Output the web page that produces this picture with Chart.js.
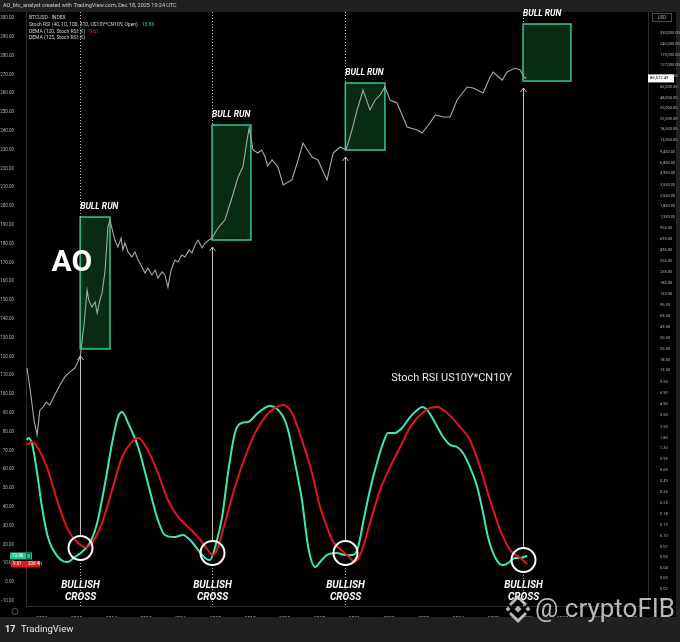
<!DOCTYPE html>
<html>
<head>
<meta charset="utf-8">
<title>BTCUSD vs Stoch RSI US10Y*CN10Y</title>
<script src="https://cdn.jsdelivr.net/npm/chart.js@4.4.1/dist/chart.umd.min.js"></script>
<style>
  html, body { margin: 0; padding: 0; background: #202020; }
  canvas { display: block; }
</style>
</head>
<body>
<canvas id="myChart" width="680" height="642"></canvas>
<script>
// BTCUSD index
const btcYears = [2011.57, 2011.68, 2011.77, 2011.86, 2011.94, 2012.03, 2012.12, 2012.23, 2012.37, 2012.52,
  2012.66, 2012.81, 2012.95, 2013.10, 2013.21, 2013.30, 2013.35, 2013.44, 2013.53, 2013.59,
  2013.67, 2013.73, 2013.82, 2013.90, 2013.96, 2014.05, 2014.10, 2014.19, 2014.28, 2014.33,
  2014.39, 2014.48, 2014.59, 2014.68, 2014.77, 2014.85, 2014.97, 2015.05, 2015.17, 2015.26,
  2015.34, 2015.46, 2015.54, 2015.63, 2015.72, 2015.83, 2015.92, 2016.03, 2016.12, 2016.24,
  2016.32, 2016.41, 2016.50, 2016.61, 2016.70, 2016.81, 2016.90, 2017.07, 2017.27, 2017.48,
  2017.65, 2017.79, 2017.91, 2017.97, 2018.08, 2018.22, 2018.33, 2018.43, 2018.50, 2018.63,
  2018.80, 2018.95, 2019.20, 2019.38, 2019.52, 2019.78, 2019.95, 2020.21, 2020.39, 2020.59,
  2020.76, 2020.93, 2021.08, 2021.25, 2021.45, 2021.60, 2021.74, 2021.88, 2022.03, 2022.23,
  2022.40, 2022.52, 2022.81, 2022.95, 2023.18, 2023.33, 2023.56, 2023.76, 2023.96, 2024.25,
  2024.42, 2024.71, 2024.91, 2025.00, 2025.26, 2025.40, 2025.63, 2025.78, 2025.89, 2025.96];
const btcPrice = [14.5, 6.5, 3.05, 1.95, 4.1, 4.5, 5.2, 4.8, 6.5, 8.7,
  11.1, 12.9, 14.5, 20.1, 52.6, 150, 111, 90, 105, 75,
  111, 137, 274, 994, 1225, 830, 673, 546, 715, 499,
  615, 470, 405, 470, 369, 318, 250, 290, 236, 274,
  215, 258, 236, 164, 274, 369, 348, 430, 405, 499,
  456, 580, 673, 530, 615, 673, 715, 964, 1225, 2445,
  4450, 6000, 13500, 19330, 10000, 9140, 10000, 8110, 6190, 7410,
  6000, 3500, 4070, 7410, 12340, 8110, 7410, 4070, 9140, 10940,
  10000, 18200, 33200, 60400, 33200, 44800, 52000, 66100, 44800, 40900,
  26900, 19920, 18200, 16650, 22450, 28600, 26900, 26900, 44800, 66100,
  64200, 55200, 89200, 103600, 81500, 103600, 116900, 110000, 89200, 85572.49];

// Stoch RSI (US10Y*CN10Y) K line
const kYears = [2011.57, 2011.60, 2011.71, 2011.86, 2012.00, 2012.17, 2012.46, 2012.72, 2012.95, 2013.15,
  2013.38, 2013.59, 2013.82, 2014.02, 2014.19, 2014.31, 2014.48, 2014.77, 2015.05, 2015.34,
  2015.54, 2015.83, 2016.06, 2016.32, 2016.50, 2016.70, 2016.84, 2016.99, 2017.19, 2017.36,
  2017.56, 2017.76, 2017.94, 2018.22, 2018.57, 2018.92, 2019.09, 2019.29, 2019.49, 2019.67,
  2019.87, 2020.01, 2020.21, 2020.50, 2020.73, 2020.96, 2021.11, 2021.25, 2021.45, 2021.65,
  2021.83, 2021.97, 2022.17, 2022.37, 2022.61, 2022.81, 2022.95, 2023.10, 2023.33, 2023.56,
  2023.76, 2023.96, 2024.13, 2024.33, 2024.54, 2024.71, 2024.85, 2025.05, 2025.26, 2025.43,
  2025.63, 2025.78, 2025.98];
const stochK = [75.5, 76.6, 73.9, 58.0, 39.9, 23.9, 13.3, 10.6, 13.3, 16.0,
  20.7, 31.4, 52.7, 73.9, 87.8, 90.4, 84.6, 71.8, 52.7, 33.0,
  25.0, 23.9, 25.0, 21.3, 17.0, 12.8, 11.7, 18.6, 34.6, 58.0,
  79.3, 84.6, 85.1, 89.9, 93.6, 88.8, 80.9, 63.3, 43.6, 18.6,
  8.0, 10.6, 14.4, 15.4, 14.4, 14.4, 18.6, 31.4, 48.9, 63.3,
  74.0, 79.3, 79.3, 81.9, 87.8, 91.5, 93.1, 91.5, 84.6, 77.1,
  72.9, 71.8, 68.6, 61.2, 50.5, 36.7, 23.9, 13.3, 9.0, 10.1,
  12.8, 12.8, 13.86];

// DEMA (120) of the K line
const dYears = [2011.57, 2011.71, 2011.88, 2012.17, 2012.46, 2012.75, 2013.04, 2013.24, 2013.44, 2013.73,
  2014.02, 2014.31, 2014.59, 2014.77, 2015.05, 2015.34, 2015.63, 2015.92, 2016.21, 2016.50,
  2016.78, 2016.93, 2017.07, 2017.27, 2017.56, 2017.85, 2018.14, 2018.43, 2018.71, 2018.95,
  2019.20, 2019.49, 2019.78, 2020.01, 2020.21, 2020.36, 2020.50, 2020.79, 2021.02, 2021.22,
  2021.45, 2021.74, 2022.03, 2022.32, 2022.61, 2022.89, 2023.18, 2023.38, 2023.67, 2024.05,
  2024.33, 2024.62, 2024.91, 2025.20, 2025.49, 2025.78, 2025.98];
const demaD = [73.0, 74.5, 71.3, 59.6, 42.0, 27.7, 20.7, 18.6, 20.7, 31.4,
  48.9, 66.5, 74.5, 76.6, 70.2, 58.0, 43.6, 34.6, 29.3, 23.9,
  17.0, 14.4, 18.6, 31.4, 50.5, 66.5, 79.3, 87.8, 92.6, 94.1,
  89.9, 75.5, 58.0, 40.0, 29.3, 22.3, 19.0, 14.4, 10.6, 17.0,
  31.4, 48.9, 61.2, 71.8, 82.4, 88.8, 92.6, 93.1, 89.9, 82.4,
  75.5, 61.2, 43.6, 27.7, 17.0, 12.8, 9.61];

// bullish crosses and the bull run boxes drawn after them
const crossYears = [2013.10, 2016.90, 2020.74, 2025.86];
const crossLevels = [18.1, 15.4, 15.4, 11.7];
const runEnds = [2013.96, 2018.02, 2021.88, 2027.24];
const runLows = [25.7, 673, 10000, 79100];
const runHighs = [1340, 21170, 74500, 437000];

// axis ticks
const yearTicks = [2012, 2013, 2014, 2015, 2016, 2017, 2018, 2019, 2020, 2021,
  2022, 2023, 2024, 2025, 2026, 2027, 2028, 2029];
const leftTicks = [-10, 0, 10, 20, 30, 40, 50, 60, 70, 80, 90, 100, 110, 120, 130, 140, 150, 160,
  170, 180, 190, 200, 210, 220, 230, 240, 250, 260, 270, 280, 290, 300];
const priceTicks = [330000, 240000, 175000, 127000, 92500, 66000, 48000, 35000, 25500, 18500,
  13500, 9450, 6850, 4950, 3550, 2550, 1850, 1330, 955, 695,
  495, 355, 255, 185, 133, 95.5, 69.5, 49.5, 35.5, 25.5,
  18.5, 13.5, 9.5, 6.9, 4.9, 3.5, 2.5, 1.8, 1.3, 0.95,
  0.69, 0.49, 0.35, 0.25, 0.18, 0.13, 0.0945, 0.0687, 0.05, 0.0364,
  0.0265, 0.0192, 0.014];
const priceLabels = ['330,000.00', '240,000.00', '175,000.00', '127,000.00', '92,500.00', '66,000.00',
  '48,000.00', '35,000.00', '25,500.00', '18,500.00', '13,500.00', '9,450.00', '6,850.00', '4,950.00',
  '3,550.00', '2,550.00', '1,850.00', '1,330.00', '955.00', '695.00', '495.00', '355.00', '255.00',
  '185.00', '133.00', '95.50', '69.50', '49.50', '35.50', '25.50', '18.50', '13.50', '9.50', '6.90',
  '4.90', '3.50', '2.50', '1.80', '1.30', '0.95', '0.69', '0.49', '0.35', '0.25', '0.18', '0.13',
  '0.10', '0.07', '0.05', '0.04', '0.03', '0.02', '0.01'];

const tickColor = '#b4b4b4';

function pairs(xs, ys) {
  return xs.map((x, i) => ({ x: x, y: ys[i] }));
}

function diamond(ctx, cx, cy, r) {
  ctx.beginPath();
  ctx.moveTo(cx, cy - r); ctx.lineTo(cx + r, cy); ctx.lineTo(cx, cy + r); ctx.lineTo(cx - r, cy);
  ctx.closePath();
  ctx.fill();
}

const drawings = {
  id: 'drawings',
  beforeDraw(chart) {
    const ctx = chart.ctx;
    ctx.save();
    ctx.fillStyle = '#202020';
    ctx.fillRect(0, 0, chart.width, chart.height);
    ctx.fillStyle = '#000';
    ctx.fillRect(0, 12, 676, 605);
    // header
    ctx.fillStyle = '#cfcfcf';
    ctx.font = '5.5px Roboto';
    ctx.textBaseline = 'middle';
    ctx.fillText('AO_btc_analyst created with TradingView.com, Dec 18, 2025 19:24 UTC', 3, 6);
    // footer
    ctx.fillStyle = '#e8e8e8';
    ctx.font = 'bold 9px Roboto';
    ctx.fillText('17', 5, 630);
    ctx.font = '9.5px Roboto';
    ctx.fillText('TradingView', 21, 630);
    // little icon left of the time scale
    ctx.strokeStyle = '#555';
    ctx.lineWidth = 1;
    ctx.beginPath(); ctx.arc(15, 611.5, 3, 0, Math.PI * 2); ctx.stroke();
    ctx.restore();
  },
  beforeDatasetsDraw(chart) {
    const { ctx, scales: { x: xs, p: ps } } = chart;
    ctx.save();
    for (let i = 0; i < crossYears.length; i++) {
      const x0 = xs.getPixelForValue(crossYears[i]);
      const x1 = xs.getPixelForValue(runEnds[i]);
      const top = ps.getPixelForValue(runHighs[i]);
      const bot = ps.getPixelForValue(runLows[i]);
      ctx.fillStyle = 'rgba(8, 50, 22, 0.85)';
      ctx.fillRect(x0, top, x1 - x0, bot - top);
      ctx.strokeStyle = '#34c98e';
      ctx.lineWidth = 1.5;
      ctx.strokeRect(x0, top, x1 - x0, bot - top);
    }
    ctx.restore();
  },
  afterDatasetsDraw(chart) {
    const { ctx, chartArea: a, scales: { x: xs, y: ys, p: ps } } = chart;
    ctx.save();
    for (let i = 0; i < crossYears.length; i++) {
      const cx = Math.round(xs.getPixelForValue(crossYears[i])) + 0.5;
      const top = ps.getPixelForValue(runHighs[i]);
      const bot = ps.getPixelForValue(runLows[i]);
      const cy = ys.getPixelForValue(crossLevels[i]);
      const r = 12, tip = bot + 7;
      ctx.strokeStyle = 'rgba(210,210,210,0.9)';
      ctx.lineWidth = 1;
      ctx.setLineDash([1, 2]);
      ctx.beginPath();
      ctx.moveTo(cx, a.top); ctx.lineTo(cx, top);
      ctx.moveTo(cx, cy + r); ctx.lineTo(cx, a.bottom);
      ctx.stroke();
      ctx.setLineDash([]);
      ctx.beginPath();
      ctx.moveTo(cx, tip); ctx.lineTo(cx, cy - r);
      ctx.moveTo(cx - 3, tip + 4); ctx.lineTo(cx, tip); ctx.lineTo(cx + 3, tip + 4);
      ctx.stroke();
      ctx.strokeStyle = '#ffffff';
      ctx.lineWidth = 2;
      ctx.beginPath(); ctx.arc(cx, cy, r, 0, Math.PI * 2); ctx.stroke();

      ctx.fillStyle = '#ffffff';
      ctx.textBaseline = 'middle';
      ctx.textAlign = 'center';
      ctx.font = 'italic 700 10px Roboto';
      ctx.fillText('BULLISH', cx, ys.getPixelForValue(-1.6));
      ctx.fillText('CROSS', cx, ys.getPixelForValue(-8));
      ctx.textAlign = 'left';
      ctx.font = 'italic 700 8.5px Roboto';
      ctx.fillText('BULL RUN', xs.getPixelForValue(crossYears[i]), top - 10);
    }
    ctx.fillStyle = '#ffffff';
    ctx.textAlign = 'center';
    ctx.textBaseline = 'middle';
    ctx.font = 'bold 30px Roboto';
    ctx.fillText('AO', xs.getPixelForValue(2012.86), ps.getPixelForValue(337));
    ctx.textAlign = 'left';
    ctx.font = '11px Roboto';
    ctx.fillStyle = '#e8e8e8';
    ctx.fillText('Stoch RSI US10Y*CN10Y', xs.getPixelForValue(2022.06), ys.getPixelForValue(108.5));

    // legend block
    ctx.font = '5px Roboto';
    ctx.fillStyle = '#d1d4dc';
    const lx = a.left + 3;
    ctx.fillText('BTCUSD \u00b7 INDEX', lx, a.top + 6);
    const s1 = 'Stoch RSI (40, 10, 100, 310, US10Y*CN10Y, Open)';
    ctx.fillText(s1, lx, a.top + 13);
    ctx.fillStyle = '#2fd39a';
    ctx.fillText(stochK[stochK.length - 1].toFixed(2), lx + ctx.measureText(s1).width + 4, a.top + 13);
    ctx.fillStyle = '#d1d4dc';
    const s2 = 'DEMA (120, Stoch RSI: K)';
    ctx.fillText(s2, lx, a.top + 20);
    ctx.fillStyle = '#f23645';
    ctx.fillText(demaD[demaD.length - 1].toFixed(2), lx + ctx.measureText(s2).width + 4, a.top + 20);
    ctx.fillStyle = '#d1d4dc';
    ctx.fillText('DEMA (125, Stoch RSI: K)', lx, a.top + 26);
    ctx.restore();
  },
  afterDraw(chart) {
    const { ctx, scales: { y: ys, p: ps } } = chart;
    ctx.save();
    ctx.textBaseline = 'middle';
    // last value badges on the left scale
    const yk = ys.getPixelForValue(stochK[stochK.length - 1]);
    ctx.fillStyle = '#22c98f';
    ctx.fillRect(10, yk - 3.5, 22, 7);
    ctx.strokeStyle = '#0b6b4a';
    ctx.strokeRect(26.5, yk - 2.5, 4, 5);
    ctx.fillStyle = '#ffffff';
    ctx.font = '4.5px Roboto';
    ctx.textAlign = 'left';
    ctx.fillText(stochK[stochK.length - 1].toFixed(2), 12, yk);
    const yd = ys.getPixelForValue(demaD[demaD.length - 1]);
    ctx.fillStyle = '#e3151c';
    ctx.fillRect(11, yd - 3, 29, 6.5);
    ctx.fillStyle = '#ffffff';
    ctx.fillText(demaD[demaD.length - 1].toFixed(2), 13, yd);
    ctx.fillText('20d 4h', 28, yd);

    // last price label and currency on the right scale
    const last = btcPrice[btcPrice.length - 1];
    const yp = ps.getPixelForValue(last);
    ctx.fillStyle = '#ffffff';
    ctx.fillRect(648, yp - 4, 26, 8);
    ctx.fillStyle = '#000000';
    ctx.font = '4.2px Roboto';
    ctx.fillText(last.toLocaleString('en-US', { minimumFractionDigits: 2, maximumFractionDigits: 2 }), 650, yp);
    ctx.strokeStyle = '#4a4a4a';
    ctx.lineWidth = 1;
    ctx.strokeRect(652.5, 13.5, 19, 8);
    ctx.fillStyle = '#b0b0b0';
    ctx.textAlign = 'center';
    ctx.font = '4.5px Roboto';
    ctx.fillText('USD', 662, 17.5);

    // watermark
    ctx.fillStyle = 'rgba(215,215,215,0.85)';
    ctx.strokeStyle = 'rgba(215,215,215,0.85)';
    const bx = 518, by = 609;
    diamond(ctx, bx, by, 3.5);
    diamond(ctx, bx - 10, by, 2.5);
    diamond(ctx, bx + 10, by, 2.5);
    ctx.lineWidth = 3;
    ctx.beginPath();
    ctx.moveTo(bx - 8, by - 4); ctx.lineTo(bx, by - 12); ctx.lineTo(bx + 8, by - 4);
    ctx.moveTo(bx - 8, by + 4); ctx.lineTo(bx, by + 12); ctx.lineTo(bx + 8, by + 4);
    ctx.stroke();
    ctx.textAlign = 'left';
    ctx.font = '26px Roboto';
    ctx.fillText('@ cryptoFIB', 535, by + 1);
    ctx.restore();
  }
};

const ctx = document.getElementById('myChart').getContext('2d');
const chart = new Chart(ctx, {
  type: 'line',
  data: {
    datasets: [
      { label: 'DEMA (120, Stoch RSI: K)', data: pairs(dYears, demaD), yAxisID: 'y',
        borderColor: '#e3151c', borderWidth: 2, pointRadius: 0, cubicInterpolationMode: 'monotone' },
      { label: 'Stoch RSI', data: pairs(kYears, stochK), yAxisID: 'y',
        borderColor: '#3de8b0', borderWidth: 2, pointRadius: 0, cubicInterpolationMode: 'monotone' },
      { label: 'BTCUSD', data: pairs(btcYears, btcPrice), yAxisID: 'p',
        borderColor: '#a9a9a9', borderWidth: 1.1, pointRadius: 0, tension: 0 }
    ]
  },
  options: {
    responsive: false,
    animation: false,
    layout: { autoPadding: false, padding: { top: 12, bottom: 25, left: 0, right: 0 } },
    plugins: { legend: { display: false }, tooltip: { enabled: false } },
    scales: {
      x: {
        type: 'linear', min: 2011.54, max: 2029.46,
        afterFit: s => { s.height = 11; },
        afterBuildTicks: s => { s.ticks = yearTicks.map(v => ({ value: v })); },
        grid: { display: false },
        border: { color: '#2c2c2c' },
        ticks: { color: tickColor, font: { size: 5, family: 'Roboto' }, padding: 2, maxRotation: 0,
          autoSkip: false, callback: v => String(v) }
      },
      y: {
        type: 'linear', position: 'left', min: -12.77, max: 303.2,
        afterFit: s => { s.width = 26; },
        afterBuildTicks: s => { s.ticks = leftTicks.map(v => ({ value: v })); },
        grid: { display: false },
        border: { color: '#2c2c2c' },
        ticks: { color: tickColor, font: { size: 4.5, family: 'Roboto' }, padding: 4, autoSkip: false,
          callback: v => Number(v).toFixed(2) }
      },
      p: {
        type: 'logarithmic', position: 'right', min: 0.01155, max: 626600,
        afterFit: s => { s.width = 32; },
        afterBuildTicks: s => { s.ticks = priceTicks.map(v => ({ value: v })); },
        grid: { display: false },
        border: { color: '#2c2c2c' },
        ticks: { color: tickColor, font: { size: 4, family: 'Roboto' }, padding: 4, autoSkip: false,
          callback: (v, i) => priceLabels[i] }
      }
    }
  },
  plugins: [drawings]
});
</script>
</body>
</html>
